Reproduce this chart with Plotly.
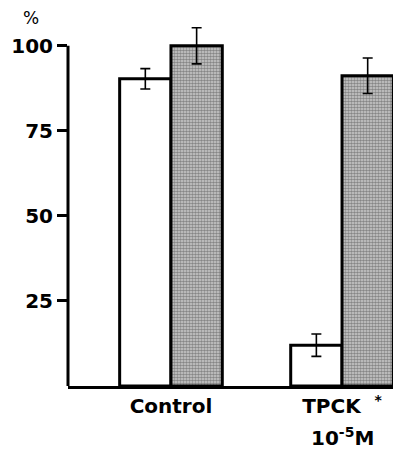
import plotly.graph_objects as go

categories = ["Control", "TPCK"]
tick_labels = ["Control", "TPCK  <sup>*</sup>"]
open_values = [90.3, 12.0]
open_errors = [3.0, 3.3]
shaded_values = [100.0, 91.2]
shaded_errors = [5.3, 5.2]
y_ticks = [25, 50, 75, 100]

FONT = "DejaVu Sans"

fig = go.Figure()
fig.add_trace(go.Bar(
    x=categories, y=open_values,
    marker=dict(color="white", line=dict(color="black", width=3)),
    error_y=dict(type="data", array=open_errors, color="black", thickness=1.6, width=5),
    showlegend=False,
))
fig.add_trace(go.Bar(
    x=categories, y=shaded_values,
    marker=dict(color="#a8a8a8", line=dict(color="black", width=3),
                pattern=dict(shape=".", size=3, solidity=0.6, fgcolor="#3c3c3c", bgcolor="#d0d0d0")),
    error_y=dict(type="data", array=shaded_errors, color="black", thickness=1.6, width=5),
    showlegend=False,
))

fig.update_layout(
    width=395, height=451,
    margin=dict(l=68, r=2, t=22, b=65),
    paper_bgcolor="white", plot_bgcolor="white",
    barmode="group", bargap=0.4, bargroupgap=0,
    xaxis=dict(
        range=[-0.602, 1.298], showline=True, linecolor="black", linewidth=3,
        showgrid=False, zeroline=False, ticks="",
        tickvals=categories, ticktext=tick_labels,
        tickfont=dict(family=FONT, size=20, color="black", weight="bold"),
    ),
    yaxis=dict(
        range=[0, 107], showline=False,
        showgrid=False, zeroline=False,
        ticks="outside", ticklen=10, tickwidth=2.5, tickcolor="black",
        tickvals=y_ticks, ticktext=[str(v) for v in y_ticks],
        tickfont=dict(family=FONT, size=20, color="black", weight="bold"),
    ),
    shapes=[
        dict(type="line", xref="paper", yref="y", x0=0, x1=0, y0=0, y1=100,
             line=dict(color="black", width=3)),
    ],
    annotations=[
        dict(text="%", x=-0.114, y=1.01, xref="paper", yref="paper",
             xanchor="center", yanchor="middle",
             showarrow=False, font=dict(family=FONT, size=17, color="black")),
        dict(text="10<sup>-5</sup>M", x="TPCK", y=-0.182, xref="x", yref="paper",
             xanchor="center", yanchor="bottom",
             showarrow=False, font=dict(family=FONT, size=20, color="black", weight="bold")),
    ],
)

fig.write_html("out.html", config={"displayModeBar": False},
               post_script="document.body.style.margin='0';document.body.style.overflow='hidden';")
